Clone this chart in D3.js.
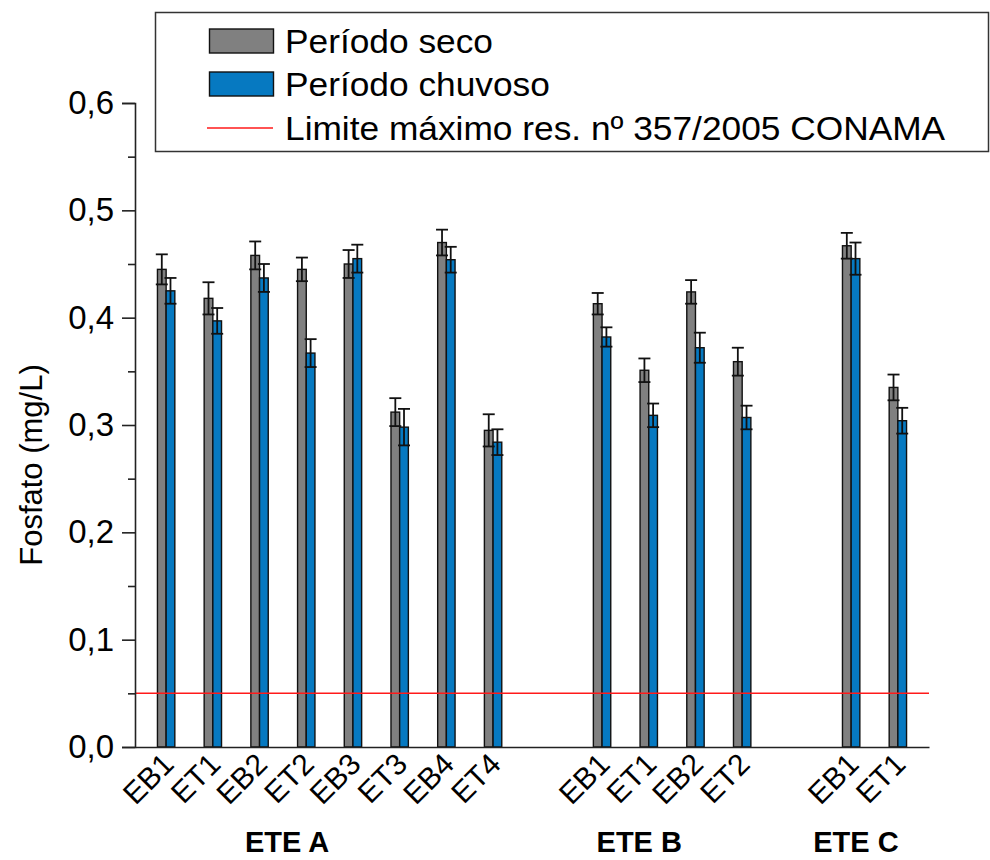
<!DOCTYPE html>
<html>
<head>
<meta charset="utf-8">
<script src="https://cdn.jsdelivr.net/npm/d3@7"></script>
<style>
  html, body { margin: 0; padding: 0; background: #fff; }
  svg { display: block; font-family: Arial, "Liberation Sans", sans-serif; }
</style>
</head>
<body>
<svg id="chart" width="990" height="860"></svg>
<script>
// Sampling points, grouped by treatment plant
const sites = ["EB1", "ET1", "EB2", "ET2", "EB3", "ET3", "EB4", "ET4",
               "EB1", "ET1", "EB2", "ET2",
               "EB1", "ET1"];
const siteGroup = ["ETE A", "ETE A", "ETE A", "ETE A", "ETE A", "ETE A", "ETE A", "ETE A",
                   "ETE B", "ETE B", "ETE B", "ETE B",
                   "ETE C", "ETE C"];
const groupNames = ["ETE A", "ETE B", "ETE C"];

// Phosphate (mg/L), mean and deviation per period
const seco       = [0.445, 0.418, 0.458, 0.445, 0.450, 0.312, 0.470, 0.295,
                    0.413, 0.351, 0.424, 0.359,
                    0.467, 0.335];
const secoErr    = [0.014, 0.015, 0.013, 0.011, 0.013, 0.013, 0.012, 0.015,
                    0.010, 0.011, 0.011, 0.013,
                    0.012, 0.012];
const chuvoso    = [0.425, 0.397, 0.437, 0.367, 0.455, 0.298, 0.454, 0.284,
                    0.382, 0.309, 0.372, 0.307,
                    0.455, 0.304];
const chuvosoErr = [0.012, 0.012, 0.013, 0.013, 0.013, 0.017, 0.012, 0.012,
                    0.009, 0.011, 0.014, 0.011,
                    0.015, 0.012];

// CONAMA 357/2005 maximum
const limite = 0.05;

const yTickValues = [0, 0.1, 0.2, 0.3, 0.4, 0.5, 0.6];
const yMinorValues = [0.05, 0.15, 0.25, 0.35, 0.45, 0.55];
const legendLabels = ["Período seco", "Período chuvoso", "Limite máximo res. nº 357/2005 CONAMA"];

// ---- layout ----
const groupGap = 4 / 3;          // extra slots between plants
const groupLabelAt = [2.59, 10.13, 14.77];
const colSeco = "#808080";
const colChuv = "#0679c1";
const fmt = d => d3.format(".1f")(d).replace(".", ",");

const svg = d3.select("#chart");
const gIndex = g => groupNames.indexOf(g);
const pos = sites.map((s, i) => i + gIndex(siteGroup[i]) * groupGap);
const lastPos = pos[pos.length - 1];

const x = d3.scaleLinear().domain([-2 / 3, lastPos + 2 / 3]).range([135, 929]);
const y = d3.scaleLinear().domain([0, 0.6]).range([747, 103]);

const unit = x(1) - x(0);
const barW = unit * 0.186;
const capW = 12;

// ---- bars ----
const rows = sites.map((s, i) => ({ s, i, p: pos[i] }));

const series = [
  { vals: seco, err: secoErr, color: colSeco, off: -1 },
  { vals: chuvoso, err: chuvosoErr, color: colChuv, off: 0 }
];

series.forEach(ser => {
  svg.append("g").selectAll("rect").data(rows).join("rect")
    .attr("x", d => x(d.p) + ser.off * barW)
    .attr("y", d => y(ser.vals[d.i]))
    .attr("width", barW)
    .attr("height", d => y(0) - y(ser.vals[d.i]))
    .attr("fill", ser.color)
    .attr("stroke", "#111")
    .attr("stroke-width", 1.4);
});

// ---- error bars ----
series.forEach(ser => {
  const g = svg.append("g").attr("stroke", "#111").attr("stroke-width", 1.8).attr("fill", "none");
  rows.forEach(d => {
    const cx = x(d.p) + ser.off * barW + barW / 2;
    const hi = y(ser.vals[d.i] + ser.err[d.i]);
    const lo = y(ser.vals[d.i] - ser.err[d.i]);
    g.append("line").attr("x1", cx).attr("x2", cx).attr("y1", hi).attr("y2", lo);
    g.append("line").attr("x1", cx - capW / 2).attr("x2", cx + capW / 2).attr("y1", hi).attr("y2", hi);
    g.append("line").attr("x1", cx - capW / 2).attr("x2", cx + capW / 2).attr("y1", lo).attr("y2", lo);
  });
});

// ---- limit line ----
svg.append("line")
  .attr("x1", x.range()[0]).attr("x2", x.range()[1])
  .attr("y1", y(limite)).attr("y2", y(limite))
  .attr("stroke", "#ff1a1a").attr("stroke-width", 1.5);

// ---- y axis ----
const yAxis = svg.append("g").attr("transform", `translate(${x.range()[0]},0)`)
  .call(d3.axisLeft(y).tickValues(yTickValues).tickFormat(fmt).tickSize(13).tickPadding(8));
yAxis.select(".domain").attr("stroke", "#222").attr("stroke-width", 1.6);
yAxis.selectAll(".tick line").attr("stroke", "#222").attr("stroke-width", 1.6);
yAxis.selectAll(".tick text").attr("font-size", 33).attr("fill", "#000")
  .attr("font-family", "Arial, 'Liberation Sans', sans-serif");

const yMinor = svg.append("g").attr("transform", `translate(${x.range()[0]},0)`)
  .call(d3.axisLeft(y).tickValues(yMinorValues).tickFormat("").tickSize(7));
yMinor.select(".domain").remove();
yMinor.selectAll(".tick line").attr("stroke", "#222").attr("stroke-width", 1.6);

svg.append("text")
  .attr("transform", `translate(42,${(y(0.6) + y(0)) / 2 + 40}) rotate(-90)`)
  .attr("text-anchor", "middle")
  .attr("font-size", 31)
  .text("Fosfato (mg/L)");

// ---- x axis ----
const xAxis = svg.append("g").attr("transform", `translate(0,${y(0)})`)
  .call(d3.axisBottom(x).tickValues(pos).tickFormat((d, i) => sites[i]).tickSize(0).tickPadding(0));
xAxis.select(".domain").attr("stroke", "#222").attr("stroke-width", 1.6);
xAxis.selectAll(".tick text")
  .attr("font-size", 30)
  .attr("fill", "#000")
  .attr("font-family", "Arial, 'Liberation Sans', sans-serif")
  .attr("text-anchor", "end")
  .attr("dy", null)
  .attr("y", 0)
  .attr("transform", "translate(9,19) rotate(-45)");

svg.append("g").selectAll("text").data(groupNames).join("text")
  .attr("x", (d, i) => x(groupLabelAt[i]))
  .attr("y", 852)
  .attr("text-anchor", "middle")
  .attr("font-size", 29)
  .attr("font-weight", "bold")
  .text(d => d);

// ---- legend ----
const lg = svg.append("g");
lg.append("rect").attr("x", 155.5).attr("y", 12.5).attr("width", 833).attr("height", 139)
  .attr("fill", "#fff").attr("stroke", "#333").attr("stroke-width", 1.5);
const rowY = [41, 84, 128];
lg.append("rect").attr("x", 209.5).attr("y", rowY[0] - 12).attr("width", 64).attr("height", 24)
  .attr("fill", colSeco).attr("stroke", "#111").attr("stroke-width", 1.4);
lg.append("rect").attr("x", 209.5).attr("y", rowY[1] - 12).attr("width", 64).attr("height", 24)
  .attr("fill", colChuv).attr("stroke", "#111").attr("stroke-width", 1.4);
lg.append("line").attr("x1", 207).attr("x2", 273).attr("y1", rowY[2]).attr("y2", rowY[2])
  .attr("stroke", "#ff1a1a").attr("stroke-width", 1.5);
lg.selectAll("text.lab").data(legendLabels).join("text")
  .attr("class", "lab")
  .attr("transform", (d, i) => `translate(285,${rowY[i]}) scale(1.07,1)`)
  .attr("dy", "0.35em")
  .attr("font-size", 33)
  .text(d => d);
</script>
</body>
</html>
